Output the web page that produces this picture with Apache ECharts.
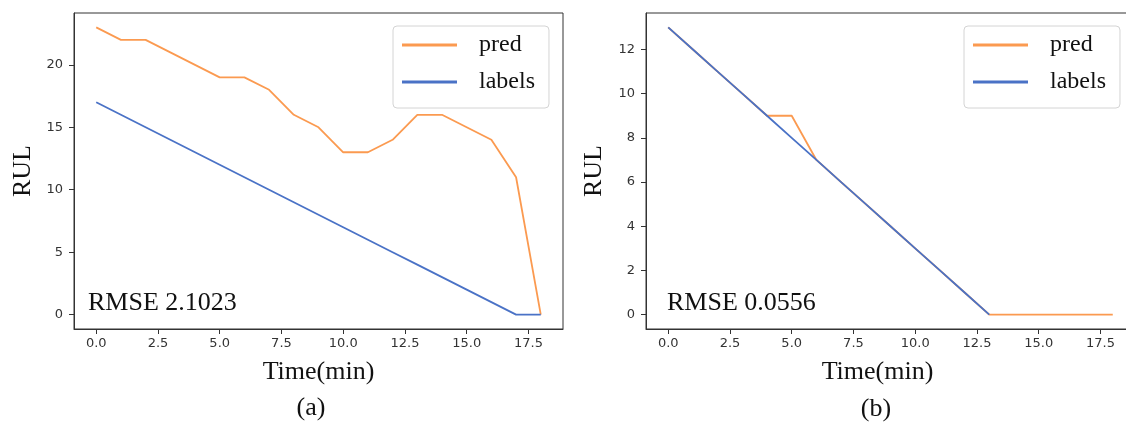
<!DOCTYPE html>
<html>
<head>
<meta charset="utf-8">
<title>RUL pred vs labels</title>
<script src="https://cdn.jsdelivr.net/npm/echarts@6/dist/echarts.min.js"></script>
<style>
  html, body { margin: 0; padding: 0; background: #fff; }
  #chart { width: 1126px; height: 422px; }
</style>
</head>
<body>
<div id="chart"></div>
<script>
// time steps (min)
var timeA = [0, 1, 2, 3, 4, 5, 6, 7, 8, 9, 10, 11, 12, 13, 14, 15, 16, 17, 18]
var predA = [23, 22, 22, 21, 20, 19, 19, 18, 16, 15, 13, 13, 14, 16, 16, 15, 14, 11, 0]
var labelsA = [17, 16, 15, 14, 13, 12, 11, 10, 9, 8, 7, 6, 5, 4, 3, 2, 1, 0, 0]

var timeB = [0, 1, 2, 3, 4, 5, 6, 7, 8, 9, 10, 11, 12, 13, 14, 15, 16, 17, 18]
var predB = [13, 12, 11, 10, 9, 9, 7, 6, 5, 4, 3, 2, 1, 0, 0, 0, 0, 0, 0]
var labelsB = [13, 12, 11, 10, 9, 8, 7, 6, 5, 4, 3, 2, 1, 0]

var xTicks = [0, 2.5, 5, 7.5, 10, 12.5, 15, 17.5]
var yTicksA = [0, 5, 10, 15, 20]
var yTicksB = [0, 2, 4, 6, 8, 10, 12]

var rmseA = 'RMSE 2.1023'
var rmseB = 'RMSE 0.0556'

var ORANGE = '#fb9a50'
var BLUE = '#4a72c6'
var SERIF = 'Liberation Serif'
var SANS = 'DejaVu Sans'

function pairs(xs, ys) {
  var out = []
  for (var i = 0; i < ys.length; i++) {
    out.push([xs[i], ys[i]])
  }
  return out
}

function makeX(gridIndex, namePadding) {
  return {
    type: 'value',
    gridIndex: gridIndex,
    min: -0.9,
    max: 18.9,
    name: 'Time(min)',
    nameLocation: 'middle',
    nameGap: 30,
    nameTextStyle: { fontFamily: SERIF, fontSize: 26, color: '#111', padding: namePadding },
    axisLine: { show: true, onZero: false, lineStyle: { color: '#333', width: 1 } },
    axisTick: { show: true, length: 5, customValues: xTicks, lineStyle: { color: '#333' } },
    axisLabel: {
      customValues: xTicks,
      margin: 8,
      fontFamily: SANS,
      fontSize: 13,
      color: '#333',
      formatter: function (v) { return v.toFixed(1) }
    },
    splitLine: { show: false }
  }
}

function makeY(gridIndex, min, max, ticks, nameGap) {
  return {
    type: 'value',
    gridIndex: gridIndex,
    min: min,
    max: max,
    name: 'RUL',
    nameLocation: 'middle',
    nameGap: nameGap,
    nameMoveOverlap: false,
    nameTextStyle: { fontFamily: SERIF, fontSize: 26, color: '#111' },
    axisLine: { show: true, onZero: false, lineStyle: { color: '#333', width: 1 } },
    axisTick: { show: true, length: 5, customValues: ticks, lineStyle: { color: '#333' } },
    axisLabel: { customValues: ticks, margin: 11, fontFamily: SANS, fontSize: 13, color: '#333' },
    splitLine: { show: false }
  }
}

function makeLegend(left) {
  return {
    left: left,
    top: 26,
    orient: 'vertical',
    data: ['pred', 'labels'],
    icon: 'rect',
    itemWidth: 55,
    itemHeight: 3,
    itemGap: 11,
    padding: [6, 14, 13, 9],
    backgroundColor: '#fff',
    borderColor: '#d4d4d4',
    borderWidth: 1,
    borderRadius: 4,
    selectedMode: false,
    textStyle: { fontFamily: SERIF, fontSize: 24, lineHeight: 26, color: '#111', padding: [0, 0, 0, 17] }
  }
}

function makeLine(name, data, color, axisIndex) {
  return {
    name: name,
    type: 'line',
    xAxisIndex: axisIndex,
    yAxisIndex: axisIndex,
    data: data,
    showSymbol: false,
    symbol: 'none',
    animation: false,
    color: color,
    lineStyle: { color: color, width: 1.8 }
  }
}

var chart = echarts.init(document.getElementById('chart'))
chart.setOption({
  backgroundColor: '#fff',
  animation: false,
  grid: [
    { left: 74, top: 13, width: 489, height: 316, outerBoundsMode: 'none', show: true, borderColor: '#333', borderWidth: 1, backgroundColor: 'transparent' },
    { left: 646, top: 13, right: -9, height: 316, outerBoundsMode: 'none', show: true, borderColor: '#333', borderWidth: 1, backgroundColor: 'transparent' }
  ],
  xAxis: [makeX(0, [0, 0, 0, 0]), makeX(1, [0, 26, 0, 0])],
  yAxis: [makeY(0, -1.15, 24.15, yTicksA, 38), makeY(1, -0.65, 13.65, yTicksB, 39)],
  legend: [makeLegend(393), makeLegend(964)],
  series: [
    makeLine('pred', pairs(timeA, predA), ORANGE, 0),
    makeLine('labels', pairs(timeA, labelsA), BLUE, 0),
    makeLine('pred', pairs(timeB, predB), ORANGE, 1),
    makeLine('labels', pairs(timeB, labelsB), BLUE, 1)
  ],
  graphic: [
    { type: 'text', left: 88, top: 290, style: { text: rmseA, font: '26px "Liberation Serif"', fill: '#111' } },
    { type: 'text', left: 667, top: 290, style: { text: rmseB, font: '26px "Liberation Serif"', fill: '#111' } },
    { type: 'text', x: 311, y: 408, style: { text: '(a)', font: '26px "Liberation Serif"', fill: '#111', align: 'center', verticalAlign: 'middle' } },
    { type: 'text', x: 876, y: 409, style: { text: '(b)', font: '26px "Liberation Serif"', fill: '#111', align: 'center', verticalAlign: 'middle' } }
  ]
})
</script>
</body>
</html>
